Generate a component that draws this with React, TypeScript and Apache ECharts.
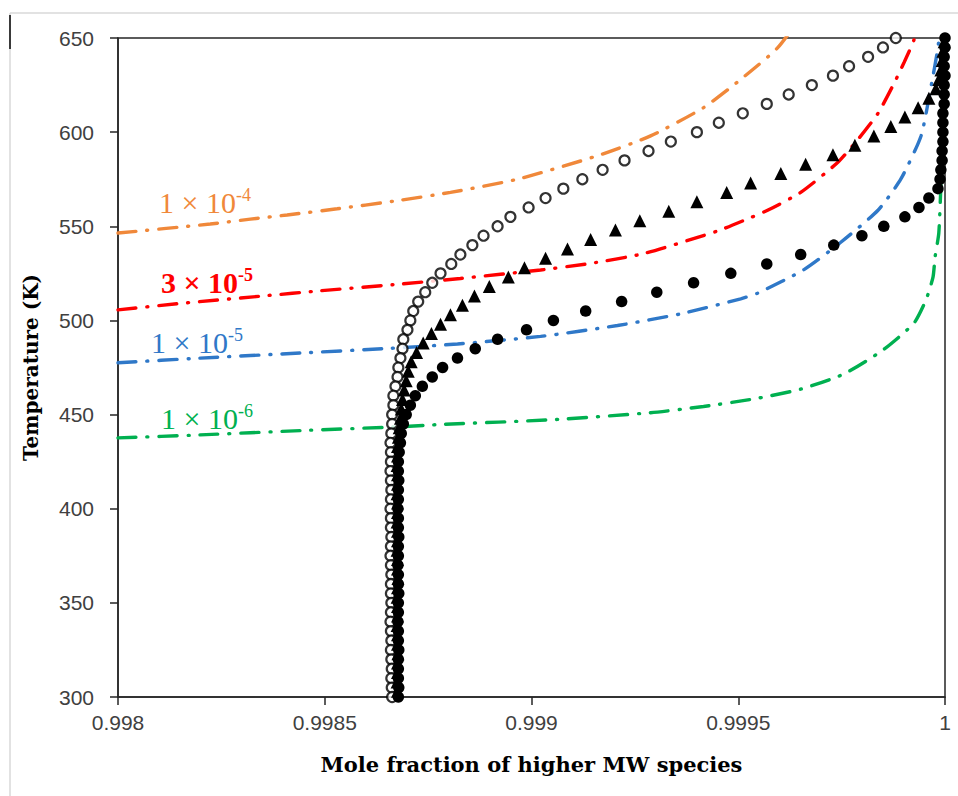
import React, { useEffect, useRef } from "react";
import * as echarts from "echarts";

// ---- Data ----
// Open circles
const openT = [650, 645, 640, 635, 630, 625, 620, 615, 610, 605, 600, 595, 590, 585, 580, 575, 570, 565, 560, 555, 550, 545, 540, 535, 530, 525, 520, 515, 510, 505, 500, 495, 490, 485, 480, 475, 470, 465, 460, 455, 450, 445, 440, 435, 430, 425, 420, 415, 410, 405, 400, 395, 390, 385, 380, 375, 370, 365, 360, 355, 350, 345, 340, 335, 330, 325, 320, 315, 310, 305, 300];
const openX = [0.999881, 0.99985, 0.999814, 0.999768, 0.999729, 0.999678, 0.999622, 0.999569, 0.999511, 0.999453, 0.9994, 0.999337, 0.999283, 0.999225, 0.999172, 0.999123, 0.999077, 0.999034, 0.998993, 0.998949, 0.998918, 0.998884, 0.998857, 0.998828, 0.998806, 0.99878, 0.99876, 0.998743, 0.998726, 0.998714, 0.998707, 0.9987, 0.99869, 0.998688, 0.998683, 0.998678, 0.998676, 0.998671, 0.998666, 0.998666, 0.998663, 0.998663, 0.998661, 0.998659, 0.99866, 0.99866, 0.998659, 0.99866, 0.998661, 0.99866, 0.998659, 0.99866, 0.99866, 0.998661, 0.99866, 0.998659, 0.99866, 0.998661, 0.99866, 0.99866, 0.998661, 0.99866, 0.998659, 0.99866, 0.998661, 0.99866, 0.998661, 0.998662, 0.998661, 0.998662, 0.998663];

// Filled triangles
const triT = [648, 643, 638, 633, 628, 623, 618, 613, 608, 603, 598, 593, 588, 583, 578, 573, 568, 563, 558, 553, 548, 543, 538, 533, 528, 523, 518, 513, 508, 503, 498, 493, 488, 483, 478, 473, 468, 463, 458, 453, 448, 443, 438, 433, 428, 423, 418, 413, 408, 403, 398, 393, 388, 383, 378, 373, 368, 363, 358, 353, 348, 343, 338, 333, 328, 323, 318, 313, 308, 303];
const triX = [0.999998, 0.999995, 0.999993, 0.99999, 0.999985, 0.999978, 0.999961, 0.999935, 0.999903, 0.999869, 0.999828, 0.999782, 0.999729, 0.999663, 0.999603, 0.99953, 0.999472, 0.9994, 0.999332, 0.999262, 0.999203, 0.999143, 0.999087, 0.999034, 0.998983, 0.998944, 0.998898, 0.998862, 0.998833, 0.998804, 0.99878, 0.998758, 0.998738, 0.998722, 0.998709, 0.998702, 0.998697, 0.998692, 0.998688, 0.998685, 0.998683, 0.99868, 0.998678, 0.998676, 0.998676, 0.998675, 0.998676, 0.998676, 0.998675, 0.998676, 0.998676, 0.998675, 0.998676, 0.998676, 0.998675, 0.998676, 0.998676, 0.998677, 0.998676, 0.998675, 0.998676, 0.998676, 0.998675, 0.998676, 0.998676, 0.998677, 0.998676, 0.998676, 0.998675, 0.998676];

// Filled circles
const fillT = [650, 645, 640, 635, 630, 625, 620, 615, 610, 605, 600, 595, 590, 585, 580, 575, 570, 565, 560, 555, 550, 545, 540, 535, 530, 525, 520, 515, 510, 505, 500, 495, 490, 485, 480, 475, 470, 465, 460, 455, 450, 445, 440, 435, 430, 425, 420, 415, 410, 405, 400, 395, 390, 385, 380, 375, 370, 365, 360, 355, 350, 345, 340, 335, 330, 325, 320, 315, 310, 305, 300];
const fillX = [1.0, 1.0, 0.999998, 0.999998, 1.0, 0.999998, 0.999998, 0.999998, 0.999995, 0.999995, 0.999995, 0.999995, 0.999993, 0.999993, 0.99999, 0.999988, 0.999983, 0.999961, 0.999937, 0.999903, 0.999852, 0.999799, 0.999731, 0.999651, 0.999569, 0.999482, 0.999392, 0.999303, 0.999218, 0.999131, 0.999053, 0.998988, 0.998918, 0.998864, 0.998821, 0.998785, 0.99876, 0.998736, 0.998719, 0.998707, 0.998697, 0.99869, 0.998685, 0.998683, 0.99868, 0.998678, 0.998678, 0.998679, 0.998678, 0.998678, 0.998677, 0.998678, 0.998678, 0.998679, 0.998678, 0.998678, 0.998677, 0.998678, 0.998678, 0.998679, 0.998678, 0.998678, 0.998677, 0.998678, 0.998678, 0.998679, 0.998678, 0.998678, 0.998678, 0.998679, 0.998678];

// Dash-dot curves (1e-4, 3e-5, 1e-5, 1e-6)
const orangeX = [0.998, 0.998223, 0.99832, 0.998409, 0.99853, 0.998666, 0.998804, 0.998966, 0.99916, 0.999288, 0.999416, 0.999506, 0.999596, 0.99968];
const orangeT = [546.4, 551.2, 553.8, 556, 559.3, 563.3, 568, 575, 587.5, 598, 613, 628, 645, 670];

const redX = [0.998, 0.99815, 0.998361, 0.998482, 0.998666, 0.998828, 0.999022, 0.999143, 0.999271, 0.99945, 0.999518, 0.999571, 0.999651, 0.999741, 0.999789, 0.999838, 0.999877, 0.999901, 0.999925, 0.99994];
const redT = [505.6, 509, 513.2, 515.6, 519, 522.3, 526.8, 530.3, 535.5, 547.5, 553.5, 558.5, 568, 584, 596, 610, 626, 637, 649, 662];

const blueX = [0.998, 0.998199, 0.998441, 0.998659, 0.998821, 0.999022, 0.999208, 0.999361, 0.999506, 0.999547, 0.999659, 0.999748, 0.999838, 0.999893, 0.999942, 0.999966, 0.999983, 0.999992];
const blueT = [477.5, 480, 482.7, 485.2, 487.5, 491.5, 497.3, 503.5, 511.5, 514.5, 527, 541.5, 558.5, 575, 598, 624, 645, 665];

const greenX = [0.998, 0.998199, 0.998441, 0.998666, 0.998787, 0.999053, 0.999288, 0.999416, 0.999538, 0.999651, 0.999755, 0.99985, 0.999925, 0.999954, 0.999971, 0.999976, 0.999985, 0.99999, 0.999998, 1.0];
const greenT = [437.6, 439.2, 441.5, 443.4, 444.8, 447.3, 451, 454.3, 458.3, 463.5, 471.5, 484.3, 498.6, 510.9, 523, 533.7, 546.4, 571, 610, 650];

// Curve labels
const labelMain = ["1 × 10", "3 × 10", "1 × 10", "1 × 10"];
const labelSup = ["-4", "-5", "-5", "-6"];
const labelColors = ["#F0883A", "#FF0000", "#2F78C8", "#00B050"];

const xTickMin = 0.998;
const xTickMax = 1;
const xTickStep = 0.0005;
const yTickMin = 300;
const yTickMax = 650;
const yTickStep = 50;

const zip = (xs: number[], ys: number[]) => xs.map((x, i) => [x, ys[i]]);

export default function App() {
  const ref = useRef<HTMLDivElement>(null);

  useEffect(() => {
    if (!ref.current) return;
    const chart = echarts.init(ref.current, undefined, { renderer: "svg" });

    const dash = [18, 11, 1, 11];
    const lineSeries = (name: string, xs: number[], ys: number[], color: string) => ({
      name,
      type: "line",
      data: zip(xs, ys),
      showSymbol: false,
      symbol: "none",
      smooth: 0.2,
      clip: true,
      lineStyle: { color, width: 3.4, type: dash, cap: "round" },
      z: 2,
    });

    const labelPos = [
      { x: 159, y: 202, sx: 236, sy: 195 },
      { x: 161, y: 282, sx: 238, sy: 275 },
      { x: 151, y: 342, sx: 228, sy: 335 },
      { x: 161, y: 418, sx: 238, sy: 411 },
    ];

    const graphics: any[] = [
      { type: "line", shape: { x1: 10, y1: 13, x2: 958, y2: 13 }, style: { stroke: "#d9d9d9", lineWidth: 1.5 }, silent: true },
      { type: "line", shape: { x1: 10, y1: 13, x2: 10, y2: 796 }, style: { stroke: "#d9d9d9", lineWidth: 1.5 }, silent: true },
      { type: "line", shape: { x1: 10, y1: 15, x2: 10, y2: 49 }, style: { stroke: "#3a3a3a", lineWidth: 2 }, silent: true },
    ];
    labelMain.forEach((t, i) => {
      const p = labelPos[i];
      graphics.push({
        type: "text",
        x: p.x,
        y: p.y,
        z: 10,
        style: {
          text: t,
          fill: labelColors[i],
          fontFamily: "Liberation Serif",
          fontSize: 30,
          fontWeight: i === 1 ? "bold" : "normal",
          verticalAlign: "middle",
          align: "left",
        },
      });
      graphics.push({
        type: "text",
        x: p.sx,
        y: p.sy,
        z: 10,
        style: {
          text: labelSup[i],
          fill: labelColors[i],
          fontFamily: "Liberation Serif",
          fontSize: 18,
          fontWeight: i === 1 ? "bold" : "normal",
          verticalAlign: "middle",
          align: "left",
        },
      });
    });

    chart.setOption({
      animation: false,
      backgroundColor: "#ffffff",
      grid: {
        left: 118,
        right: 13,
        top: 38,
        bottom: 99,
        show: true,
        borderColor: "#262626",
        borderWidth: 1.5,
        backgroundColor: "transparent",
      },
      xAxis: {
        type: "value",
        min: xTickMin,
        max: xTickMax,
        interval: xTickStep,
        name: "Mole fraction of higher MW species",
        nameLocation: "middle",
        nameGap: 57,
        nameTextStyle: { fontFamily: "DejaVu Serif", fontWeight: "bold", fontSize: 21, color: "#000" },
        axisLine: { show: true, lineStyle: { color: "#262626", width: 1.5 } },
        axisTick: { show: true, inside: false, length: 8, lineStyle: { color: "#262626", width: 1.5 } },
        splitLine: { show: false },
        axisLabel: {
          margin: 15,
          color: "#404040",
          fontFamily: "Liberation Sans",
          fontSize: 21,
          formatter: (v: number) => String(parseFloat(v.toFixed(4))),
        },
      },
      yAxis: {
        type: "value",
        min: yTickMin,
        max: yTickMax,
        interval: yTickStep,
        name: "Temperature (K)",
        nameLocation: "middle",
        nameGap: 77,
        nameTextStyle: { fontFamily: "DejaVu Serif", fontWeight: "bold", fontSize: 20, color: "#000" },
        axisLine: { show: true, lineStyle: { color: "#262626", width: 1.5 } },
        axisTick: { show: true, inside: false, length: 8, lineStyle: { color: "#262626", width: 1.5 } },
        splitLine: { show: false },
        axisLabel: {
          margin: 24,
          color: "#404040",
          fontFamily: "Liberation Sans",
          fontSize: 21,
        },
      },
      series: [
        lineSeries("1e-4", orangeX, orangeT, labelColors[0]),
        lineSeries("3e-5", redX, redT, labelColors[1]),
        lineSeries("1e-5", blueX, blueT, labelColors[2]),
        lineSeries("1e-6", greenX, greenT, labelColors[3]),
        {
          name: "open",
          type: "scatter",
          data: zip(openX, openT),
          symbol: "circle",
          symbolSize: 10,
          itemStyle: { color: "#ffffff", borderColor: "#000000", borderWidth: 2.2 },
          clip: false,
          z: 3,
        },
        {
          name: "triangle",
          type: "scatter",
          data: zip(triX, triT),
          symbol: "triangle",
          symbolSize: 13,
          itemStyle: { color: "#000000", opacity: 1 },
          clip: false,
          z: 4,
        },
        {
          name: "filled",
          type: "scatter",
          data: zip(fillX, fillT),
          symbol: "circle",
          symbolSize: 11.5,
          itemStyle: { color: "#000000", opacity: 1 },
          clip: false,
          z: 5,
        },
      ],
      graphic: graphics,
    });

    return () => chart.dispose();
  }, []);

  return (
    <div
      ref={ref}
      style={{ position: "fixed", left: 0, top: 0, width: 958, height: 796, background: "#fff" }}
    />
  );
}
